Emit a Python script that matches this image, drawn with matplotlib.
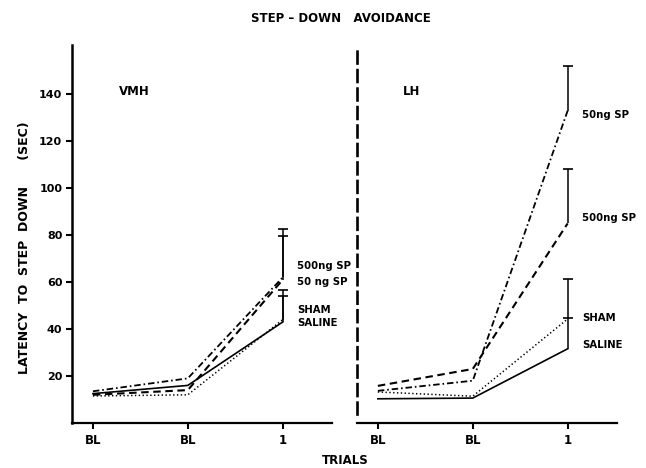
import matplotlib
matplotlib.use("Agg")
import matplotlib.pyplot as plt

plt.rcParams["font.family"] = ["DejaVu Sans"]
plt.rcParams["font.weight"] = "bold"

# trial positions and tick labels
trials = [0, 1, 2]
trial_labels = ["BL", "BL", "1"]
yticks = [20, 40, 60, 80, 100, 120, 140]

groups = ["50ng SP", "500ng SP", "SHAM", "SALINE"]

# VMH means (sec) and upper SEM at trial 1
vmh_50 = [13.5, 19, 62]
vmh_500 = [12, 14, 61]
vmh_sham = [11.5, 12, 44]
vmh_saline = [12.5, 16, 43]
vmh_err = [20.5, 18.5, 12.5, 11]

# LH means (sec) and upper SEM at trial 1
lh_50 = [13.7, 18, 133]
lh_500 = [15.8, 23, 85]
lh_sham = [13.2, 11.4, 44.3]
lh_saline = [10.3, 10.6, 31.6]
lh_err = [19, 23, 17, 13]

# label text and heights next to trial 1
vmh_label_text = ["500ng SP", "50 ng SP", "SHAM", "SALINE"]
vmh_label_y = [67, 60, 48, 42.5]
lh_label_text = ["50ng SP", "500ng SP", "SHAM", "SALINE"]
lh_label_y = [131, 87.5, 44.5, 33]

styles = {
    "50ng SP": dict(ls=(0, (3.6, 1.6, 0.9, 1.6)), lw=1.3),
    "500ng SP": dict(ls=(0, (3.6, 2.2)), lw=1.5),
    "SHAM": dict(ls=(0, (0.9, 1.6)), lw=1.1),
    "SALINE": dict(ls="-", lw=1.2),
}

fig = plt.figure(figsize=(6.46, 4.68), dpi=100)
ax1 = fig.add_axes([0.1115, 0.0962, 0.4025, 0.8077])
ax2 = fig.add_axes([0.5526, 0.0962, 0.4025, 0.8077])


def draw_panel(ax, series, errs, label_text, label_y, name, name_x):
    for g, vals in zip(groups, series):
        ax.plot(trials, vals, color="black", **styles[g])
    for vals, e in zip(series, errs):
        ax.vlines(trials[-1], vals[-1], vals[-1] + e, color="black", lw=1.1)
        ax.plot(trials[-1], vals[-1] + e, marker="_", ms=7, mew=1.2, color="black")
    for t, y in zip(label_text, label_y):
        ax.text(2.15, y, t, fontsize=7.3, fontweight="bold", va="center", ha="left")
    ax.text(name_x, 141, name, fontsize=8.5, fontweight="bold", va="center")
    ax.set_xlim(-0.22, 2.52)
    ax.set_ylim(0, 161)
    ax.set_xticks(trials)
    ax.set_xticklabels(trial_labels, fontsize=8.5, fontweight="bold")
    ax.spines["top"].set_visible(False)
    ax.spines["right"].set_visible(False)
    ax.spines["bottom"].set_linewidth(1.6)
    ax.tick_params(axis="x", direction="out", length=4, width=1.5, pad=4)


draw_panel(ax1, [vmh_50, vmh_500, vmh_sham, vmh_saline], vmh_err,
           vmh_label_text, vmh_label_y, "VMH", 0.27)
draw_panel(ax2, [lh_50, lh_500, lh_sham, lh_saline], lh_err,
           lh_label_text, lh_label_y, "LH", 0.26)

ax1.set_yticks(yticks)
ax1.set_yticklabels([str(v) for v in yticks], fontsize=8, fontweight="bold")
ax1.spines["left"].set_linewidth(1.8)
ax1.tick_params(axis="y", direction="out", length=4, width=1.5, pad=3)

# LH: dashed divider instead of a y axis
ax2.set_yticks([])
ax2.spines["left"].set_linewidth(1.9)
ax2.spines["left"].set_linestyle((0, (4.5, 2.5)))
ax2.spines["left"].set_bounds(4, 159)

fig.text(0.527, 0.9615, "STEP – DOWN   AVOIDANCE", ha="center", va="center",
         fontsize=8.5, fontweight="bold")
fig.text(0.534, 0.016, "TRIALS", ha="center", va="center",
         fontsize=8.5, fontweight="bold")
fig.text(0.038, 0.47, "LATENCY  TO  STEP  DOWN      (SEC)", rotation=90,
         ha="center", va="center", fontsize=9, fontweight="bold")

fig.savefig("out.png", dpi=100)
